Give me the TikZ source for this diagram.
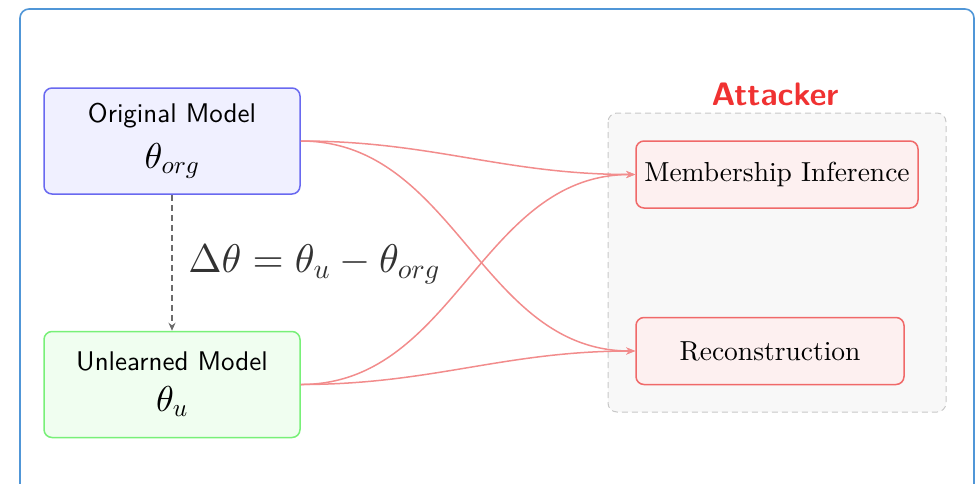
\documentclass[tikz,border=0pt]{standalone}
\usepackage[no-math]{fontspec}
% single 10pt designs, scaled to every size
\setmainfont{lmroman10-regular.otf}[BoldFont=lmroman10-bold.otf,ItalicFont=lmroman10-italic.otf]
\setsansfont{lmsans10-regular.otf}[BoldFont=lmsans10-bold.otf]
\usetikzlibrary{arrows.meta}
% scalable Computer Modern math fonts at any size
\DeclareFontShape{OML}{cmm}{m}{it}{<->cmmi10}{\skewchar\font'177}
\DeclareFontShape{OT1}{cmr}{m}{n}{<->cmr10}{}
\DeclareFontShape{OMS}{cmsy}{m}{n}{<->cmsy10}{\skewchar\font'60}
\definecolor{frameblue}{RGB}{80,150,215}
\definecolor{origfill}{RGB}{240,240,255}
\definecolor{origdraw}{RGB}{105,105,240}
\definecolor{unlfill}{RGB}{240,254,240}
\definecolor{unldraw}{RGB}{120,240,120}
\definecolor{attfill}{RGB}{253,240,240}
\definecolor{attdraw}{RGB}{240,105,105}
\definecolor{linkred}{RGB}{242,140,140}
\definecolor{attred}{RGB}{240,50,50}
\definecolor{groupfill}{RGB}{248,248,248}
\definecolor{groupdraw}{RGB}{200,200,200}
\definecolor{deltagray}{RGB}{50,50,50}
\tikzset{
  modelbox/.style={draw, line width=1.5pt, rounded corners=8pt, minimum width=256pt,
    minimum height=106pt, align=center, inner sep=0pt},
  attbox/.style={draw=attdraw, fill=attfill, line width=1.5pt, rounded corners=8pt,
    minimum height=67pt, inner sep=0pt, font=\fontsize{27.5}{32}\selectfont},
  link/.style={draw=linkred, line width=1.5pt, -{Stealth[length=9pt,width=7pt]}},
  diffarrow/.style={draw=gray!85!black, line width=1.4pt, dash pattern=on 6pt off 4pt,
    -{Stealth[length=8pt,width=7pt]}},
}
\begin{document}
\begin{tikzpicture}[x=1pt,y=-1pt]
\useasboundingbox (0,0) rectangle (980,483);
% outer panel, open at the bottom
\draw[frameblue, line width=1.6pt, rounded corners=9pt]
  (20,500) -- (20,9) -- (974,9) -- (974,500);

% attacker group
\draw[groupdraw, fill=groupfill, line width=1pt, dash pattern=on 6pt off 4pt, rounded corners=9pt]
  (608,113) rectangle (946,412);
\node[font=\fontsize{32.5}{36}\selectfont\sffamily\bfseries, text=attred] (att) at (775,94) {Attacker};

% models
\node[modelbox, draw=origdraw, fill=origfill] (orig) at (172,141)
  {{\fontsize{27}{30}\selectfont\sffamily Original Model}\\[14pt]
   {\fontsize{36}{36}\selectfont$\theta_{org}$}};
\node[modelbox, draw=unldraw, fill=unlfill] (unl) at (172,384.5)
  {{\fontsize{27}{30}\selectfont\sffamily Unlearned Model}\\[14pt]
   {\fontsize{36}{36}\selectfont$\theta_u$}};

% attack tasks
\node[attbox, minimum width=282pt] (mem) at (777,174.5) {Membership Inference};
\node[attbox, minimum width=268pt] (rec) at (770,351) {Reconstruction};

% parameter difference
\draw[diffarrow] (orig.south) -- (unl.north);
\node[text=deltagray, font=\fontsize{40}{44}\selectfont] (delta) at (314,264)
  {$\Delta\theta = \theta_u - \theta_{org}$};

% attacker access
\draw[link] (orig.east) to[out=0,in=180] (mem.west);
\draw[link] (orig.east) to[out=0,in=180] (rec.west);
\draw[link] (unl.east) to[out=0,in=180] (mem.west);
\draw[link] (unl.east) to[out=0,in=180] (rec.west);
\end{tikzpicture}
\end{document}
